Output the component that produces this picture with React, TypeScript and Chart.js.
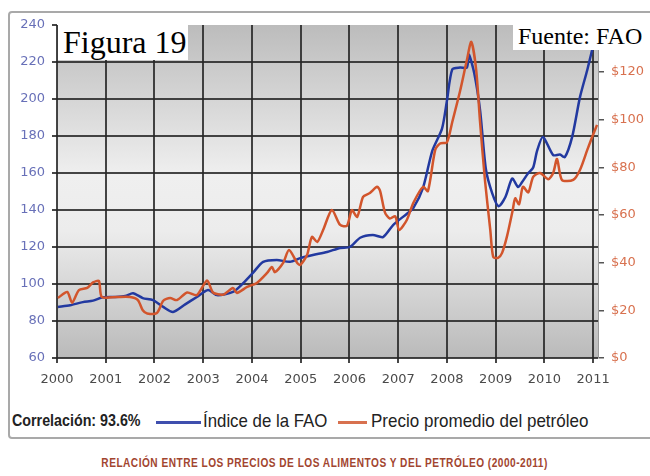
import React, { useEffect, useRef } from 'react';
import { Chart, registerables } from 'chart.js';

Chart.register(...registerables);

// ---- data ----
const faoYears = [2000.02, 2000.27, 2000.53, 2000.74, 2000.94, 2001.19, 2001.40, 2001.56, 2001.76, 2001.97, 2002.18, 2002.38, 2002.63, 2002.87, 2003.10, 2003.28, 2003.61, 2003.82, 2004.02, 2004.23, 2004.51, 2004.78, 2004.99, 2005.25, 2005.54, 2005.81, 2006.01, 2006.22, 2006.48, 2006.69, 2006.90, 2007.18, 2007.31, 2007.51, 2007.70, 2007.90, 2008.00, 2008.11, 2008.27, 2008.41, 2008.45, 2008.56, 2008.68, 2008.80, 2008.93, 2009.06, 2009.20, 2009.34, 2009.46, 2009.54, 2009.67, 2009.77, 2009.85, 2009.97, 2010.18, 2010.32, 2010.42, 2010.57, 2010.73, 2010.88, 2010.98, 2011.04];
const faoIndex = [87.6, 88.5, 90.2, 91, 92.8, 93, 93.5, 95, 92.4, 91.3, 87.6, 84.9, 89, 93, 96.8, 94, 95.7, 100.5, 106, 112, 113, 112, 114, 115.7, 117.3, 119.5, 120, 125, 126.5, 125.4, 132, 138, 141, 152, 172, 184, 199, 216, 217, 217, 224, 214, 194, 162, 149, 142, 147, 157, 152.4, 155, 160, 163, 172, 179.5, 169.7, 170, 168.6, 179.5, 201, 215.7, 226.5, 232];

const oilYears = [2000.02, 2000.21, 2000.31, 2000.45, 2000.62, 2000.74, 2000.86, 2000.92, 2001.23, 2001.50, 2001.66, 2001.76, 2001.85, 2002.05, 2002.18, 2002.32, 2002.46, 2002.67, 2002.87, 2003.08, 2003.20, 2003.41, 2003.61, 2003.69, 2003.90, 2004.10, 2004.31, 2004.41, 2004.47, 2004.64, 2004.76, 2004.93, 2004.99, 2005.13, 2005.23, 2005.34, 2005.46, 2005.64, 2005.81, 2005.95, 2006.05, 2006.16, 2006.28, 2006.42, 2006.57, 2006.63, 2006.73, 2006.83, 2006.94, 2007.02, 2007.18, 2007.31, 2007.51, 2007.61, 2007.76, 2007.86, 2008.00, 2008.11, 2008.27, 2008.41, 2008.50, 2008.60, 2008.68, 2008.78, 2008.89, 2008.95, 2009.05, 2009.13, 2009.23, 2009.35, 2009.40, 2009.48, 2009.56, 2009.67, 2009.77, 2009.91, 2010.08, 2010.18, 2010.26, 2010.36, 2010.59, 2010.73, 2010.88, 2010.98, 2011.08];
const oilPrice = [25.2, 27.7, 23.2, 28.5, 29.4, 31.7, 32.3, 25.6, 25.6, 25.6, 24.3, 20, 18.7, 18.9, 24, 25.2, 24.3, 27.5, 26.4, 32.5, 27.5, 26.6, 29.4, 27.3, 29.8, 31.5, 35.7, 38.2, 36, 39.9, 45.3, 39.9, 39, 43.2, 50.8, 48.7, 53.7, 62.1, 55.8, 55.5, 62, 59.2, 67.6, 69.2, 71.8, 70, 61, 58.5, 59.5, 53.7, 58, 65, 71.8, 70, 87.3, 90, 90.5, 99, 112, 125, 132.6, 121, 99, 74.7, 53.7, 42.4, 42, 44, 50.8, 62, 67, 64.5, 71.8, 69.5, 76, 77.6, 75, 77.6, 83.5, 74.7, 74.7, 78.9, 87.3, 92.7, 97.8];

const yearTicks = [2000, 2001, 2002, 2003, 2004, 2005, 2006, 2007, 2008, 2009, 2010, 2011];
const indexTicks = [60, 80, 100, 120, 140, 160, 180, 200, 220, 240];
const priceTicks = [0, 20, 40, 60, 80, 100, 120];

const seriesNames = ['Índice de la FAO', 'Precio promedio del petróleo'];
const correlationText = 'Correlación: 93.6%';
const titleText = 'Figura 19';
const sourceText = 'Fuente: FAO';
const captionText = 'RELACIÓN ENTRE LOS PRECIOS DE LOS ALIMENTOS Y DEL PETRÓLEO (2000-2011)';

const BLUE = '#2239a0';
const ORANGE = '#d2552c';
const GRID = 'rgba(38,38,38,0.85)';

const bgPlugin = {
  id: 'gradientBg',
  beforeDraw(chart: any) {
    const { ctx, chartArea: a } = chart;
    if (!a) return;
    const g = ctx.createLinearGradient(0, a.top, 0, a.bottom);
    g.addColorStop(0, '#bcbcbc');
    g.addColorStop(0.45, '#efefef');
    g.addColorStop(0.62, '#ececec');
    g.addColorStop(1, '#bababa');
    ctx.save();
    ctx.fillStyle = g;
    ctx.fillRect(a.left, a.top, a.right - a.left, a.bottom - a.top);
    ctx.restore();
  },
};

function FaoChart() {
  const ref = useRef<HTMLCanvasElement | null>(null);
  useEffect(() => {
    if (!ref.current) return;
    const chart = new Chart(ref.current, {
      type: 'line',
      data: {
        datasets: [
          {
            label: seriesNames[1],
            data: oilYears.map((x, i) => ({ x, y: oilPrice[i] })),
            borderColor: ORANGE,
            borderWidth: 2.5,
            pointRadius: 0,
            tension: 0.25,
            yAxisID: 'y2',
          },
          {
            label: seriesNames[0],
            data: faoYears.map((x, i) => ({ x, y: faoIndex[i] })),
            borderColor: BLUE,
            borderWidth: 2.5,
            pointRadius: 0,
            tension: 0.25,
            yAxisID: 'y',
          },
        ],
      },
      options: {
        animation: false,
        responsive: false,
        maintainAspectRatio: false,
        layout: { padding: { top: 25, left: 0, right: 0, bottom: 0 } },
        plugins: { legend: { display: false }, tooltip: { enabled: false } },
        scales: {
          x: {
            type: 'linear',
            min: 2000,
            max: 2011.1,
            afterFit: (s: any) => { s.height = 42; },
            afterBuildTicks: (s: any) => { s.ticks = yearTicks.map((value) => ({ value })); },
            ticks: {
              callback: (v: any) => String(v),
              color: '#4a4a4a',
              font: { family: 'DejaVu Sans', size: 13 },
              padding: 9,
              maxRotation: 0,
              autoSkip: false,
            },
            grid: { color: GRID, lineWidth: 2, tickLength: 5, tickColor: GRID },
            border: { display: false },
          },
          y: {
            position: 'left',
            min: 60,
            max: 240,
            afterFit: (s: any) => { s.width = 57; },
            afterBuildTicks: (s: any) => { s.ticks = indexTicks.map((value) => ({ value })); },
            ticks: {
              color: '#6870b8',
              font: { family: 'DejaVu Sans', size: 13 },
              padding: 7,
            },
            grid: {
              color: (c: any) => (c.tick && c.tick.value === 240 ? 'rgba(0,0,0,0)' : GRID),
              lineWidth: 2,
              tickLength: 5,
              tickColor: GRID,
            },
            border: { display: false },
          },
          y2: {
            position: 'right',
            min: 0,
            max: 139.7,
            afterFit: (s: any) => { s.width = 52; },
            afterBuildTicks: (s: any) => { s.ticks = priceTicks.map((value) => ({ value })); },
            ticks: {
              callback: (v: any) => '$' + v,
              color: '#d8714f',
              font: { family: 'DejaVu Sans', size: 13 },
              padding: 7,
            },
            grid: { drawOnChartArea: false, tickLength: 6, tickColor: '#555', lineWidth: 1.5 },
            border: { display: true, color: '#9a9a9a', width: 1 },
          },
        },
      },
      plugins: [bgPlugin],
    } as any);
    return () => chart.destroy();
  }, []);
  return <canvas ref={ref} width={650} height={400} style={{ position: 'absolute', left: 0, top: 0, width: 650, height: 400 }} />;
}

export default function App() {
  const legendFont = "'Liberation Sans', Arial, sans-serif";
  const narrow = (scale: number) => ({ transform: `scaleX(${scale})`, transformOrigin: 'left center' });
  return (
    <div style={{ position: 'absolute', left: 0, top: 0, width: 650, height: 476, overflow: 'hidden', background: '#fff' }}>
      <div style={{ position: 'absolute', left: 8, top: 11, width: 670, height: 428, border: '2px solid #a9a9a9', borderRadius: 4, boxSizing: 'border-box' }} />
      <FaoChart />
      <div style={{ position: 'absolute', left: 58, top: 24, width: 130, height: 36, background: '#fff', fontFamily: "'Liberation Serif', serif", fontSize: 32, lineHeight: '36px', paddingLeft: 5, boxSizing: 'border-box', color: '#000', whiteSpace: 'nowrap' }}>{titleText}</div>
      <div style={{ position: 'absolute', left: 513, top: 23, width: 137, height: 27, background: '#fff', fontFamily: "'Liberation Serif', serif", fontSize: 24, lineHeight: '27px', paddingLeft: 5, boxSizing: 'border-box', color: '#000', whiteSpace: 'nowrap' }}>{sourceText}</div>
      <div style={{ position: 'absolute', left: 12, top: 410, fontFamily: legendFont, fontSize: 17, fontWeight: 'bold', color: '#222', whiteSpace: 'nowrap', lineHeight: '22px', ...narrow(0.84) }}>{correlationText}</div>
      <div style={{ position: 'absolute', left: 156, top: 421, width: 45, height: 3, background: '#3f4fae' }} />
      <div style={{ position: 'absolute', left: 203, top: 410, fontFamily: legendFont, fontSize: 19, color: '#222', whiteSpace: 'nowrap', lineHeight: '22px', ...narrow(0.885) }}>{seriesNames[0]}</div>
      <div style={{ position: 'absolute', left: 338, top: 421, width: 29, height: 3, background: '#d8714f' }} />
      <div style={{ position: 'absolute', left: 371, top: 410, fontFamily: legendFont, fontSize: 19, color: '#222', whiteSpace: 'nowrap', lineHeight: '22px', ...narrow(0.895) }}>{seriesNames[1]}</div>
      <div style={{ position: 'absolute', left: 0, top: 455, width: 650, display: 'flex', justifyContent: 'center' }}>
        <div style={{ fontFamily: legendFont, fontSize: 12.5, fontWeight: 'bold', letterSpacing: 0.6, color: '#a2452f', whiteSpace: 'nowrap', lineHeight: '16px', transform: 'scaleX(0.81)', transformOrigin: 'center center' }}>{captionText}</div>
      </div>
    </div>
  );
}
